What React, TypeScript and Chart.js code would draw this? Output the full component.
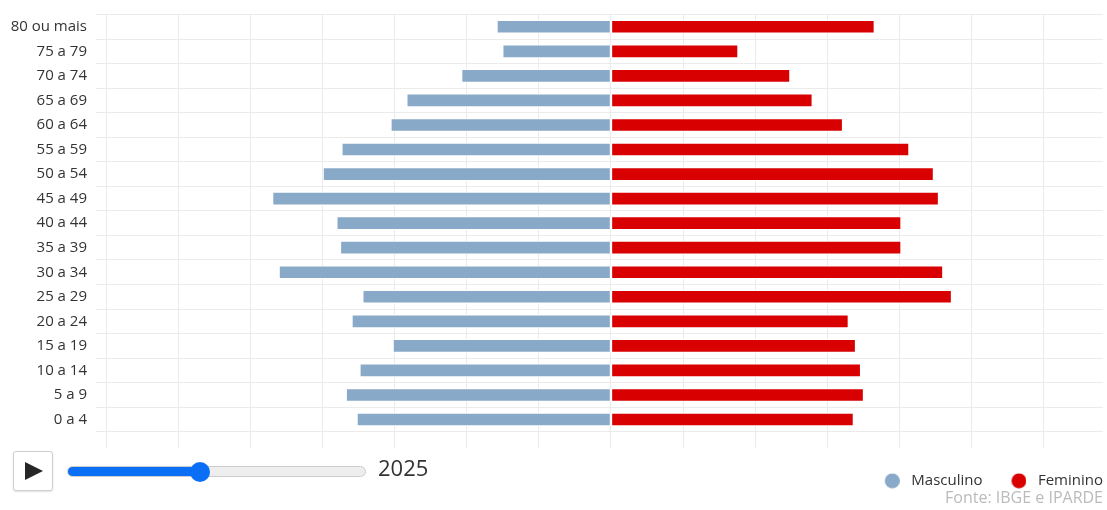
import { useEffect, useRef } from 'react';
import { Chart, registerables } from 'chart.js';

Chart.register(...registerables);

// Age groups, youngest first (the y axis is reversed so "80 ou mais" sits on top)
const ageGroups = [
  '0 a 4', '5 a 9', '10 a 14', '15 a 19', '20 a 24', '25 a 29', '30 a 34', '35 a 39',
  '40 a 44', '45 a 49', '50 a 54', '55 a 59', '60 a 64', '65 a 69', '70 a 74', '75 a 79', '80 ou mais',
];

// Population by sex and age group (thousands)
const masculino = [352, 367, 348, 302, 359, 344, 460, 375, 380, 469, 399, 373, 305, 283, 207, 150, 158];
const feminino = [336, 350, 346, 339, 329, 472, 460, 402, 402, 454, 447, 413, 321, 279, 248, 176, 365];

// Vertical grid positions on the value axis
const gridTicks = [-700, -600, -500, -400, -300, -200, -100, 0, 100, 200, 300, 400, 500, 600];

// Year selector
const firstYear = 2010;
const lastYear = 2044;
const selectedYear = 2025;

const FONT = "'Open Sans', 'DejaVu Sans', sans-serif";
const GRID = '#ebebeb';
const COLOR_M = '#89a9c8';
const COLOR_F = '#d80000';
const SLIDER_BLUE = '#0b6ff6';

function legendDot(color: string): HTMLCanvasElement {
  const c = document.createElement('canvas');
  c.width = 40;
  c.height = 16;
  const g = c.getContext('2d');
  if (g) {
    g.fillStyle = color;
    g.beginPath();
    g.arc(32.5, 8, 7.5, 0, Math.PI * 2);
    g.fill();
  }
  return c;
}

function Pyramid() {
  const ref = useRef<HTMLCanvasElement | null>(null);

  useEffect(() => {
    if (!ref.current) return;
    const dots = [legendDot(COLOR_M), legendDot(COLOR_F)];
    const chart = new Chart(ref.current, {
      type: 'bar',
      data: {
        labels: ageGroups,
        datasets: [
          {
            label: 'Masculino',
            data: masculino.map((v) => -v),
            backgroundColor: COLOR_M,
            borderColor: '#ffffff',
            borderWidth: 1,
            borderSkipped: false,
            barThickness: 13,
          },
          {
            label: 'Feminino',
            data: feminino,
            backgroundColor: COLOR_F,
            borderColor: '#ffffff',
            borderWidth: 1,
            borderSkipped: false,
            barThickness: 13,
          },
        ],
      },
      options: {
        animation: false,
        responsive: false,
        indexAxis: 'y',
        layout: { padding: { top: 14.5, right: 4, bottom: 1.5, left: 0 } },
        scales: {
          x: {
            type: 'linear',
            stacked: true,
            min: -700,
            max: 682,
            afterBuildTicks: (scale: any) => {
              scale.ticks = gridTicks.map((value) => ({ value }));
            },
            afterFit: (scale: any) => {
              scale.height = 41.5;
              scale.paddingLeft = 0;
              scale.paddingRight = 0;
            },
            ticks: { display: false },
            grid: { color: GRID, tickLength: 16 },
            border: { display: false },
          },
          y: {
            type: 'category',
            stacked: true,
            reverse: true,
            afterFit: (scale: any) => {
              scale.width = 106;
              scale.paddingTop = 0;
              scale.paddingBottom = 0;
            },
            ticks: { color: '#333333', font: { family: FONT, size: 15 }, padding: 9 },
            grid: { color: GRID, tickLength: 10 },
            border: { display: false },
          },
        },
        plugins: {
          legend: {
            position: 'bottom',
            align: 'end',
            labels: {
              usePointStyle: true,
              pointStyleWidth: 48,
              padding: 0,
              color: '#333333',
              font: { family: FONT, size: 15 },
              generateLabels: (c: any) =>
                Chart.defaults.plugins.legend.labels
                  .generateLabels(c)
                  .map((item: any, i: number) => ({ ...item, pointStyle: dots[i] })),
            },
          },
          subtitle: {
            display: true,
            text: 'Fonte: IBGE e IPARDE',
            position: 'bottom',
            align: 'end',
            color: '#bbbbbb',
            font: { family: FONT, size: 16, weight: 'normal' },
            padding: { top: -9, bottom: 0 },
          },
          tooltip: {
            callbacks: {
              label: (ctx: any) => `${ctx.dataset.label}: ${Math.abs(ctx.parsed.x)}`,
            },
          },
        },
      },
    } as any);
    return () => chart.destroy();
  }, []);

  return <canvas ref={ref} width={1107} height={510} style={{ position: 'absolute', left: 0, top: 0 }} />;
}

export default function App() {
  const frac = (selectedYear - firstYear) / (lastYear - firstYear);
  const pct = ((10 + frac * 279) / 299) * 100;
  const css = `
    .year-range{-webkit-appearance:none;appearance:none;box-sizing:border-box;width:299px;height:11px;margin:0;padding:0;
      border:1px solid #cccccc;border-radius:6px;outline:none;
      background:linear-gradient(to right, ${SLIDER_BLUE} 0%, ${SLIDER_BLUE} ${pct}%, #eeeeee ${pct}%, #eeeeee 100%);}
    .year-range::-webkit-slider-thumb{-webkit-appearance:none;appearance:none;width:20px;height:20px;border-radius:50%;
      background:${SLIDER_BLUE};border:none;}
  `;
  return (
    <div
      style={{
        position: 'fixed',
        left: 0,
        top: 0,
        width: 1107,
        height: 510,
        background: '#ffffff',
        overflow: 'hidden',
        fontFamily: FONT,
      }}
    >
      <style>{css}</style>
      <Pyramid />
      <button
        type="button"
        aria-label="play"
        style={{
          position: 'absolute',
          left: 13,
          top: 451,
          width: 40,
          height: 40,
          padding: 0,
          margin: 0,
          border: '1px solid #cfcfcf',
          borderRadius: 3,
          background: '#ffffff',
          boxShadow: '0 1px 2px rgba(0,0,0,0.12)',
        }}
      />
      <div
        style={{
          position: 'absolute',
          left: 25,
          top: 462,
          width: 0,
          height: 0,
          borderLeft: '18px solid #262626',
          borderTop: '9px solid transparent',
          borderBottom: '9px solid transparent',
        }}
      />
      <input
        className="year-range"
        type="range"
        min={firstYear}
        max={lastYear}
        step={1}
        defaultValue={selectedYear}
        style={{ position: 'absolute', left: 67, top: 466 }}
      />
      <div
        style={{
          position: 'absolute',
          left: 378,
          top: 454,
          fontSize: 22,
          lineHeight: '26px',
          color: '#333333',
        }}
      >
        {selectedYear}
      </div>
    </div>
  );
}
